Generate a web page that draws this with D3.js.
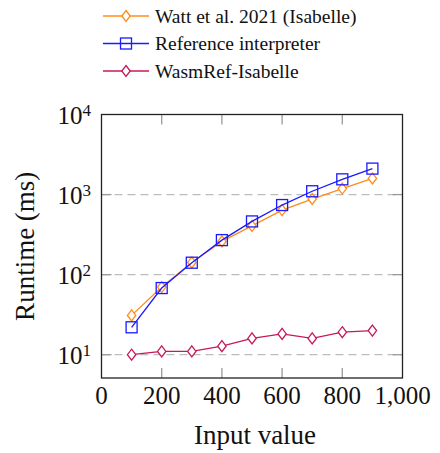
<!DOCTYPE html>
<html><head><meta charset="utf-8">
<script src="https://cdn.jsdelivr.net/npm/d3@7"></script>
</head><body style="margin:0">
<svg width="440" height="453"></svg>
<script>
const inputs = [100,200,300,400,500,600,700,800,900];
const seriesNames = ["Watt et al. 2021 (Isabelle)","Reference interpreter","WasmRef-Isabelle"];
const wattValues = [31,70,142,260,407,640,880,1190,1590];
const refValues = [22,68,141,270,462,740,1100,1550,2110];
const wasmRefValues = [10,11,11,12.8,16,18.2,16,19.1,20];
const xTicks = [0,200,400,600,800,1000];
const yTicks = [10,100,1000,10000];
const colors = ["#ff8c1a","#1a1aff","#c8185a"];
const markers = ["diamond","square","diamond"];
const FONT = "Liberation Serif";

const svg = d3.select("svg");
const L=101.5, R=402.5, T=114.5, B=378;
const x = d3.scaleLinear().domain([0,1000]).range([L,R]);
const y = d3.scaleLog().domain([5.12,10000]).range([B,T]);

function txt(sel){ return sel.attr("font-family",FONT).style("font-family",FONT).attr("fill","#111"); }

svg.append("g").selectAll("line").data(yTicks.slice(0,3)).join("line")
  .attr("x1",L).attr("x2",R).attr("y1",d=>y(d)).attr("y2",d=>y(d))
  .attr("stroke","#bdbdbd").attr("stroke-width",1.3).attr("stroke-dasharray","8,5");

const tk = svg.append("g").attr("stroke","#9a9a9a").attr("stroke-width",1.3);
xTicks.slice(1,5).forEach(v=>{
  tk.append("line").attr("x1",x(v)).attr("x2",x(v)).attr("y1",B).attr("y2",B-10);
  tk.append("line").attr("x1",x(v)).attr("x2",x(v)).attr("y1",T).attr("y2",T+10);
});
yTicks.slice(0,3).forEach(v=>{
  tk.append("line").attr("x1",L).attr("x2",L+10).attr("y1",y(v)).attr("y2",y(v));
  tk.append("line").attr("x1",R).attr("x2",R-10).attr("y1",y(v)).attr("y2",y(v));
});

svg.append("rect").attr("x",L).attr("y",T).attr("width",R-L).attr("height",B-T)
  .attr("fill","none").attr("stroke","#222").attr("stroke-width",1.3);

txt(svg.append("g").selectAll("text").data(xTicks).join("text"))
  .attr("x",d=>x(d)).attr("y",B+26).attr("text-anchor","middle").attr("font-size",25)
  .text(d=>d3.format(",")(d));
const yl = txt(svg.append("g").selectAll("text").data(yTicks).join("text"))
  .attr("x",91).attr("y",d=>y(d)+9.5).attr("text-anchor","end").attr("font-size",25);
yl.append("tspan").text("10");
yl.append("tspan").attr("font-size",17).attr("dy",-8).text(d=>Math.round(Math.log10(d)));

txt(svg.append("text")).attr("x",(L+R)/2+3).attr("y",443.5).attr("text-anchor","middle").attr("font-size",27).text("Input value");
txt(svg.append("text")).attr("transform",`translate(34,${(T+B)/2}) rotate(-90)`).attr("text-anchor","middle").attr("font-size",27).text("Runtime (ms)");

function marker(g,type,cx,cy,color){
  if(type==="square"){
    g.append("rect").attr("x",cx-5.5).attr("y",cy-5.5).attr("width",11).attr("height",11)
      .attr("fill","none").attr("stroke",color).attr("stroke-width",1.3);
  } else {
    g.append("path").attr("d",`M${cx},${cy-5.5}L${cx+4.2},${cy}L${cx},${cy+5.5}L${cx-4.2},${cy}Z`)
      .attr("fill","#fff").attr("stroke",color).attr("stroke-width",1.3);
  }
}

const allSeries=[wattValues,refValues,wasmRefValues];
const line = d3.line().x(d=>x(d[0])).y(d=>y(d[1]));
allSeries.forEach((vals,i)=>{
  const pts = inputs.map((v,j)=>[v,vals[j]]);
  const g = svg.append("g");
  g.append("path").attr("d",line(pts)).attr("fill","none").attr("stroke",colors[i]).attr("stroke-width",1.3);
  pts.forEach(p=>marker(g,markers[i],x(p[0]),y(p[1]),colors[i]));
});

seriesNames.forEach((n,i)=>{
  const yy = 16 + i*27.5;
  const g = svg.append("g");
  g.append("line").attr("x1",103).attr("x2",149).attr("y1",yy).attr("y2",yy).attr("stroke",colors[i]).attr("stroke-width",1.3);
  marker(g,markers[i],126,yy,colors[i]);
  txt(g.append("text")).attr("x",155).attr("y",yy+6.5).attr("font-size",19.5).text(n);
});
</script></body></html>
